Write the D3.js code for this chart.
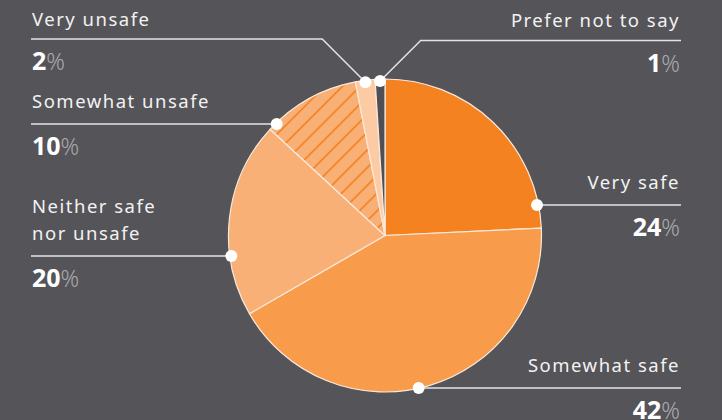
<!DOCTYPE html>
<html>
<head>
<meta charset="utf-8">
<script src="https://cdn.jsdelivr.net/npm/d3@7"></script>
<style>
  html, body { margin: 0; padding: 0; background: #545459; }
  svg { display: block; }
  text { font-family: "Noto Sans", sans-serif; }
</style>
</head>
<body>
<div id="chart"></div>
<script>
// data
const categories = ["Very safe", "Somewhat safe", "Neither safe nor unsafe", "Somewhat unsafe", "Very unsafe", "Prefer not to say"];
const values = [24, 42, 20, 10, 2, 1];
const labelLines = [["Very safe"], ["Somewhat safe"], ["Neither safe", "nor unsafe"], ["Somewhat unsafe"], ["Very unsafe"], ["Prefer not to say"]];

// look
const colors = ["#f58220", "#f89b4b", "#f9b077", "#f9b077", "#fccba3", "#4f4e54"];
const hatched = ["Somewhat unsafe"];
// where each label sits: side and y of its leader line
const layout = {
    "Very safe": { side: "right", lineY: 205, gap: 16.5 },
    "Somewhat safe": { side: "right", lineY: 388, gap: 16.5 },
    "Neither safe nor unsafe": { side: "left", lineY: 256, gap: 16 },
    "Somewhat unsafe": { side: "left", lineY: 124, gap: 16.5 },
    "Very unsafe": { side: "left", lineY: 39, gap: 13, elbow: true },
    "Prefer not to say": { side: "right", lineY: 40.5, gap: 14, elbow: true }
};

const width = 722, height = 420;
const cx = 385, cy = 235.5, r = 156.5;
const leftX = 31, rightX = 681;

const svg = d3.select("#chart")
    .append("svg")
    .attr("width", width)
    .attr("height", height);

svg.append("rect").attr("width", width).attr("height", height).attr("fill", "#545459");

const defs = svg.append("defs");
const step = 12.5;
const pat = defs.append("pattern")
    .attr("id", "hatch")
    .attr("patternUnits", "userSpaceOnUse")
    .attr("width", step)
    .attr("height", step)
    .attr("patternTransform", "rotate(45)");
pat.append("rect").attr("width", step).attr("height", step).attr("fill", colors[3]);
pat.append("line")
    .attr("x1", 2).attr("y1", 0).attr("x2", 2).attr("y2", step)
    .attr("stroke", "#f58220").attr("stroke-width", 1.7);

const data = categories.map((c, i) => ({ name: c, value: values[i], lines: labelLines[i], color: colors[i] }));

const pie = d3.pie().value(d => d.value).sort(null);
const arcs = pie(data);
const arc = d3.arc().innerRadius(0).outerRadius(r);

const g = svg.append("g").attr("transform", `translate(${cx},${cy})`);

g.selectAll("path")
    .data(arcs)
    .enter()
    .append("path")
    .attr("d", arc)
    .attr("fill", d => hatched.includes(d.data.name) ? "url(#hatch)" : d.data.color)
    .attr("stroke", "#fbe9dc")
    .attr("stroke-width", 1.2)
    .attr("stroke-linejoin", "round");

// leader lines, dots and labels
arcs.forEach(a => {
    const L = layout[a.data.name];
    let dot, pts;
    if (L.elbow) {
        const mid = (a.startAngle + a.endAngle) / 2;
        const rr = r - 2;
        dot = [cx + rr * Math.sin(mid), cy - rr * Math.cos(mid)];
        const dy = dot[1] - L.lineY;
        const kx = L.side === "left" ? dot[0] - dy : dot[0] + dy;
        pts = [[L.side === "left" ? leftX : rightX, L.lineY], [kx, L.lineY], dot];
    } else {
        const dy = L.lineY - cy;
        const dx = Math.sqrt(r * r - dy * dy) - 1.5;
        dot = [L.side === "left" ? cx - dx : cx + dx, L.lineY];
        pts = [[L.side === "left" ? leftX : rightX, L.lineY], dot];
    }
    svg.append("path")
        .attr("d", d3.line()(pts))
        .attr("fill", "none")
        .attr("stroke", "#e4e4e6")
        .attr("stroke-width", 1.5);
    svg.append("circle")
        .attr("cx", dot[0]).attr("cy", dot[1]).attr("r", 6)
        .attr("fill", "#ffffff");

    const anchor = L.side === "left" ? "start" : "end";
    const tx = L.side === "left" ? leftX + 1 : rightX - 1;
    const lh = 26.7;
    a.data.lines.forEach((t, i) => {
        svg.append("text")
            .attr("x", tx)
            .attr("y", L.lineY - L.gap - (a.data.lines.length - 1 - i) * lh)
            .attr("text-anchor", anchor)
            .attr("fill", "#f2f2f2")
            .attr("font-size", 18.5)
            .attr("letter-spacing", 1.5)
            .text(t);
    });
    const pct = svg.append("text")
        .attr("x", tx)
        .attr("y", L.lineY + 31)
        .attr("text-anchor", anchor)
        .attr("font-size", 25);
    pct.append("tspan").attr("font-weight", 700).attr("fill", "#ffffff").text(a.data.value);
    pct.append("tspan").attr("font-weight", 300).attr("fill", "#a9a9ad").attr("font-size", 23).text("%");
});
</script>
</body>
</html>
